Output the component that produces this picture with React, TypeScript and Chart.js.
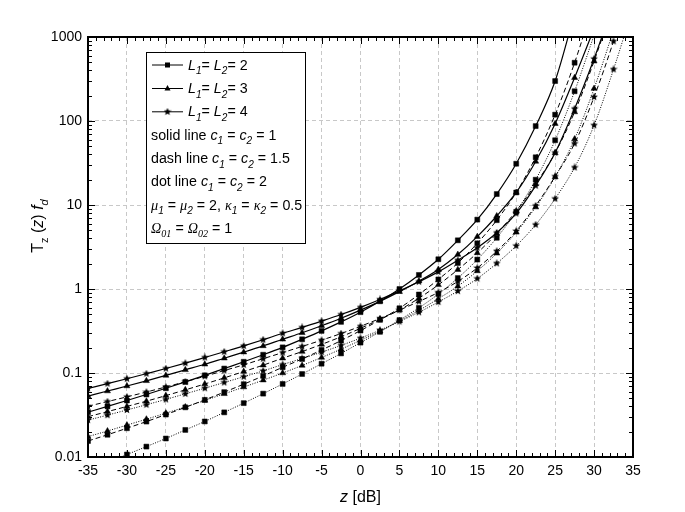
import React, { useEffect, useRef } from 'react';
import { Chart, registerables } from 'chart.js';

Chart.register(...registerables);

// ---- data ----
const zValues = [-35, -32.5, -30, -27.5, -25, -22.5, -20, -17.5, -15, -12.5, -10, -7.5, -5, -2.5, 0, 2.5, 5, 7.5, 10, 12.5, 15, 17.5, 20, 22.5, 25, 27.5, 30, 32.5, 35];

const xTickValues = [-35, -30, -25, -20, -15, -10, -5, 0, 5, 10, 15, 20, 25, 30, 35];
const yTickValues = [0.01, 0.1, 1, 10, 100, 1000];
const yTickLabels = ['0.01', '0.1', '1', '10', '100', '1000'];

// L1 = L2 = 2 (squares)
const L2_c1 = [0.0342, 0.04, 0.047, 0.0555, 0.0658, 0.0783, 0.0938, 0.113, 0.136, 0.165, 0.202, 0.252, 0.317, 0.406, 0.53, 0.714, 1.0, 1.47, 2.26, 3.8, 6.7, 13.5, 31, 87, 299, 1900, null, null, null];
const L2_c15 = [0.0155, 0.0184, 0.022, 0.0264, 0.032, 0.039, 0.0479, 0.0592, 0.0736, 0.0923, 0.117, 0.147, 0.188, 0.243, 0.32, 0.429, 0.59, 0.86, 1.3, 2.04, 3.5, 6.6, 14.1, 37, 119, 494, 2630, null, null];
const L2_c2 = [0.0069, 0.0086, 0.0107, 0.0133, 0.0166, 0.021, 0.0265, 0.034, 0.0438, 0.0568, 0.0741, 0.0973, 0.129, 0.171, 0.23, 0.309, 0.427, 0.596, 0.871, 1.35, 2.24, 4.07, 8.3, 20, 59, 226, 1050, null, null];
// L1 = L2 = 3 (triangles)
const L3_c1 = [0.0531, 0.061, 0.07, 0.0807, 0.0935, 0.109, 0.127, 0.15, 0.177, 0.21, 0.252, 0.301, 0.365, 0.448, 0.56, 0.713, 0.93, 1.24, 1.71, 2.57, 4.2, 7.4, 14.1, 33, 93, 328, 1260, null, null];
const L3_c15 = [0.0302, 0.0347, 0.04, 0.0462, 0.0538, 0.063, 0.074, 0.0875, 0.104, 0.124, 0.15, 0.18, 0.219, 0.27, 0.34, 0.435, 0.562, 0.776, 1.12, 1.7, 2.69, 4.57, 8.5, 17.8, 41.7, 128, 514, 2500, null];
const L3_c2 = [0.0175, 0.0204, 0.024, 0.0282, 0.0333, 0.0394, 0.0471, 0.0565, 0.068, 0.0822, 0.1, 0.123, 0.153, 0.192, 0.245, 0.314, 0.417, 0.556, 0.767, 1.08, 1.64, 2.66, 4.73, 9.44, 21.6, 61, 243, 1200, null];
// L1 = L2 = 4 (stars)
const L4_c1 = [0.0655, 0.0748, 0.0855, 0.0982, 0.113, 0.131, 0.153, 0.179, 0.21, 0.249, 0.297, 0.349, 0.415, 0.497, 0.605, 0.75, 0.95, 1.22, 1.6, 2.2, 3.1, 4.68, 7.94, 17, 42, 140, 550, 2500, null];
const L4_c15 = [0.0402, 0.0457, 0.052, 0.0594, 0.0682, 0.0787, 0.0914, 0.107, 0.125, 0.148, 0.175, 0.207, 0.246, 0.295, 0.36, 0.445, 0.56, 0.71, 0.91, 1.23, 1.78, 2.82, 4.9, 9.8, 21.9, 54, 193, 890, 5000];
const L4_c2 = [0.0275, 0.0315, 0.0363, 0.0419, 0.0485, 0.0565, 0.0659, 0.0771, 0.0903, 0.106, 0.126, 0.149, 0.177, 0.213, 0.26, 0.324, 0.41, 0.528, 0.7, 0.944, 1.33, 2.02, 3.27, 5.82, 11.9, 28, 89, 412, 2240];

const SANS = "'Liberation Sans', Arial, sans-serif";
const SERIF = "'Liberation Serif', 'Times New Roman', serif";

type Seg = { t: string; it?: boolean; sub?: boolean; serif?: boolean };

function richWidth(ctx: CanvasRenderingContext2D, segs: Seg[], size: number) {
  let w = 0;
  for (const s of segs) {
    const fs = s.sub ? Math.round(size * 0.7) : size;
    ctx.font = `${s.it ? 'italic ' : ''}${fs}px ${s.serif ? SERIF : SANS}`;
    w += ctx.measureText(s.t).width;
  }
  return w;
}

function drawRich(ctx: CanvasRenderingContext2D, segs: Seg[], x: number, y: number, size: number) {
  let cx = x;
  ctx.textAlign = 'left';
  ctx.textBaseline = 'alphabetic';
  for (const s of segs) {
    const fs = s.sub ? Math.round(size * 0.7) : size;
    ctx.font = `${s.it ? 'italic ' : ''}${fs}px ${s.serif ? SERIF : SANS}`;
    ctx.fillText(s.t, cx, y + (s.sub ? size * 0.3 : 0));
    cx += ctx.measureText(s.t).width;
  }
}

function makeStar(size: number) {
  const c = document.createElement('canvas');
  c.width = size;
  c.height = size;
  const g = c.getContext('2d')!;
  const cx = size / 2, cy = size / 2, R = size / 2, r = R * 0.45;
  g.beginPath();
  for (let i = 0; i < 10; i++) {
    const ang = -Math.PI / 2 + (i * Math.PI) / 5;
    const rad = i % 2 === 0 ? R : r;
    g.lineTo(cx + rad * Math.cos(ang), cy + rad * Math.sin(ang));
  }
  g.closePath();
  g.fillStyle = '#000';
  g.fill();
  return c;
}

export default function App() {
  const ref = useRef<HTMLCanvasElement | null>(null);

  useEffect(() => {
    document.body.style.margin = '0';
    const canvas = ref.current!;
    const star = makeStar(8);

    const series = [
      { values: L2_c1, marker: 'rect', dash: [] as number[] },
      { values: L3_c1, marker: 'triangle', dash: [] },
      { values: L4_c1, marker: 'star', dash: [] },
      { values: L2_c15, marker: 'rect', dash: [5, 3] },
      { values: L3_c15, marker: 'triangle', dash: [5, 3] },
      { values: L4_c15, marker: 'star', dash: [5, 3] },
      { values: L2_c2, marker: 'rect', dash: [1, 1.5] },
      { values: L3_c2, marker: 'triangle', dash: [1, 1.5] },
      { values: L4_c2, marker: 'star', dash: [1, 1.5] },
    ];

    const datasets = series.map((s, i) => ({
      label: 'series ' + i,
      data: zValues
        .map((z, k) => ({ x: z, y: s.values[k] as number | null }))
        .filter((p) => p.y !== null),
      borderColor: '#000',
      backgroundColor: '#000',
      borderWidth: s.dash.length ? 1 : 1.2,
      borderDash: s.dash,
      pointStyle: (s.marker === 'star' ? star : s.marker) as any,
      pointRadius: 3.5,
      pointBorderWidth: 0.5,
      pointBorderColor: '#000',
      pointBackgroundColor: '#000',
      cubicInterpolationMode: 'monotone' as const,
      fill: false,
    }));

    const decorPlugin = {
      id: 'decor',
      afterDraw(chart: any) {
        const ctx: CanvasRenderingContext2D = chart.ctx;
        const a = chart.chartArea;
        const xs = chart.scales.x;
        const ys = chart.scales.y;
        ctx.save();
        ctx.setLineDash([]);
        ctx.strokeStyle = '#000';
        ctx.lineWidth = 1;
        // inward ticks, x
        for (let z = -35; z <= 35; z++) {
          const px = Math.round(xs.getPixelForValue(z)) + 0.5;
          const len = z % 5 === 0 ? 7 : 4;
          ctx.beginPath();
          ctx.moveTo(px, a.bottom);
          ctx.lineTo(px, a.bottom - len);
          ctx.moveTo(px, a.top);
          ctx.lineTo(px, a.top + len);
          ctx.stroke();
        }
        // inward ticks, y
        for (let d = -2; d <= 2; d++) {
          for (let k = 1; k <= 10; k++) {
            const v = k * Math.pow(10, d);
            const py = Math.round(ys.getPixelForValue(v)) + 0.5;
            const len = k === 1 || k === 10 ? 7 : 4;
            ctx.beginPath();
            ctx.moveTo(a.left, py);
            ctx.lineTo(a.left + len, py);
            ctx.moveTo(a.right, py);
            ctx.lineTo(a.right - len, py);
            ctx.stroke();
          }
        }
        // frame
        ctx.lineWidth = 2;
        ctx.strokeRect(a.left, a.top, a.right - a.left, a.bottom - a.top);

        // legend box
        const bx = 146, by = 52, bw = 159, bh = 191;
        ctx.fillStyle = '#fff';
        ctx.fillRect(bx, by, bw, bh);
        ctx.lineWidth = 1;
        ctx.strokeStyle = '#000';
        ctx.strokeRect(bx + 0.5, by + 0.5, bw, bh);

        const size = 15.5;
        const rowY = [69.5, 93, 116.3, 139.6, 162.9, 186.2, 209.5, 232.8];
        const markers = ['rect', 'triangle', 'star'];
        ctx.fillStyle = '#000';
        for (let i = 0; i < 3; i++) {
          const cy = rowY[i] - 5;
          ctx.beginPath();
          ctx.moveTo(152, cy + 0.5);
          ctx.lineTo(183, cy + 0.5);
          ctx.stroke();
          const mx = 167.5;
          if (markers[i] === 'rect') {
            ctx.fillRect(mx - 2.5, cy - 2, 5, 5);
          } else if (markers[i] === 'triangle') {
            ctx.beginPath();
            ctx.moveTo(mx, cy - 3);
            ctx.lineTo(mx + 3, cy + 2.5);
            ctx.lineTo(mx - 3, cy + 2.5);
            ctx.closePath();
            ctx.fill();
          } else {
            ctx.drawImage(star, mx - 4, cy - 3.5);
          }
        }
        // legend texts, slightly condensed horizontally
        const txt = (segs: Seg[], x: number, y: number) => {
          ctx.save();
          ctx.translate(x, y);
          ctx.scale(0.92, 1);
          drawRich(ctx, segs, 0, 0, size);
          ctx.restore();
        };
        for (let i = 0; i < 3; i++) {
          txt([
            { t: 'L', it: true }, { t: '1', sub: true, it: true }, { t: '= ' },
            { t: 'L', it: true }, { t: '2', sub: true, it: true }, { t: '= ' + (i + 2) },
          ], 188, rowY[i]);
        }
        const cRow = (prefix: string, val: string, y: number) =>
          txt([
            { t: prefix }, { t: 'c', it: true }, { t: '1', sub: true, it: true }, { t: ' = ' },
            { t: 'c', it: true }, { t: '2', sub: true, it: true }, { t: ' = ' + val },
          ], 151, y);
        cRow('solid line ', '1', rowY[3]);
        cRow('dash line ', '1.5', rowY[4]);
        cRow('dot line ', '2', rowY[5]);
        txt([
          { t: 'μ', it: true, serif: true }, { t: '1', sub: true, it: true }, { t: ' = ' },
          { t: 'μ', it: true, serif: true }, { t: '2', sub: true, it: true }, { t: ' = 2, ' },
          { t: 'κ', it: true, serif: true }, { t: '1', sub: true, it: true }, { t: ' = ' },
          { t: 'κ', it: true, serif: true }, { t: '2', sub: true, it: true }, { t: ' = 0.5' },
        ], 151, rowY[6]);
        txt([
          { t: 'Ω', it: true, serif: true }, { t: '01', sub: true, it: true, serif: true }, { t: ' = ' },
          { t: 'Ω', it: true, serif: true }, { t: '02', sub: true, it: true, serif: true }, { t: ' = 1' },
        ], 151, rowY[7]);

        // x title
        const xt: Seg[] = [{ t: 'z', it: true }, { t: ' [dB]' }];
        const xw = richWidth(ctx, xt, 16);
        drawRich(ctx, xt, (a.left + a.right) / 2 - xw / 2, 502, 16);

        // y title
        const yt: Seg[] = [
          { t: 'T' }, { t: 'z', sub: true }, { t: ' (' }, { t: 'z', it: true }, { t: ') ' },
          { t: 'f', it: true }, { t: 'd', sub: true, it: true },
        ];
        const yw = richWidth(ctx, yt, 16);
        ctx.translate(43, 226);
        ctx.rotate(-Math.PI / 2);
        drawRich(ctx, yt, -yw / 2, 0, 16);
        ctx.restore();
      },
    };

    Chart.defaults.font.family = SANS;
    Chart.defaults.font.size = 14;
    Chart.defaults.color = '#000';

    const chart = new Chart(canvas, {
      type: 'line',
      data: { datasets: datasets as any },
      options: {
        animation: false,
        responsive: false,
        devicePixelRatio: 1,
        layout: { padding: { left: 8, right: 52, top: 37, bottom: 0 } },
        plugins: { legend: { display: false }, tooltip: { enabled: false } },
        scales: {
          x: {
            type: 'linear',
            min: -35,
            max: 35,
            afterBuildTicks: (s: any) => {
              s.ticks = xTickValues.map((v) => ({ value: v }));
            },
            afterFit: (s: any) => {
              s.height = 55;
            },
            ticks: {
              padding: 6,
              autoSkip: false,
              maxRotation: 0,
              color: '#000',
              font: { size: 14, family: SANS },
              callback: (v: any) => String(v),
            },
            grid: { color: '#c8c8c8', lineWidth: 1, drawTicks: false },
            border: { display: false, dash: [4, 3] },
          },
          y: {
            type: 'logarithmic',
            min: 0.01,
            max: 1000,
            afterBuildTicks: (s: any) => {
              s.ticks = yTickValues.map((v) => ({ value: v }));
            },
            afterFit: (s: any) => {
              s.width = 80;
            },
            ticks: {
              padding: 6,
              autoSkip: false,
              color: '#000',
              font: { size: 14, family: SANS },
              callback: (v: any) => {
                const i = yTickValues.indexOf(Number(v));
                return i >= 0 ? yTickLabels[i] : '';
              },
            },
            grid: { color: '#c8c8c8', lineWidth: 1, drawTicks: false },
            border: { display: false, dash: [4, 3] },
          },
        },
      },
      plugins: [decorPlugin],
    });

    return () => chart.destroy();
  }, []);

  return (
    <div style={{ width: 685, height: 512, background: '#fff' }}>
      <canvas ref={ref} width={685} height={512} style={{ display: 'block' }} />
    </div>
  );
}
